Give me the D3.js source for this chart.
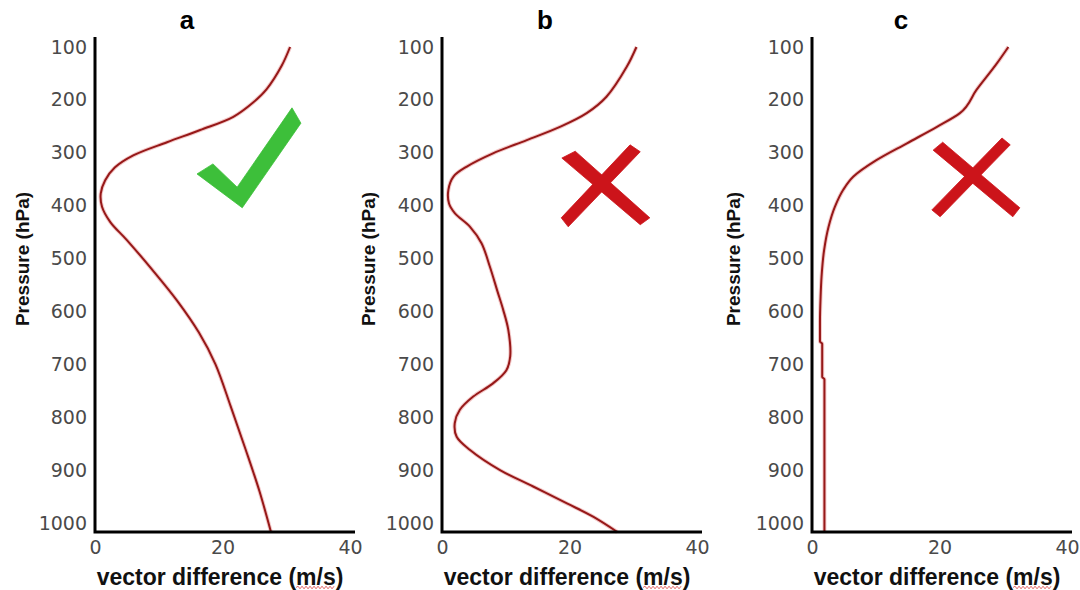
<!DOCTYPE html>
<html>
<head>
<meta charset="utf-8">
<script src="https://cdn.jsdelivr.net/npm/d3@7"></script>
<style>
  html, body { margin: 0; padding: 0; background: #ffffff; }
  svg { display: block; }
</style>
</head>
<body>
<svg id="chart" width="1080" height="590"></svg>
<script>
// ---- data -------------------------------------------------------------
const pressureTicks = [100, 200, 300, 400, 500, 600, 700, 800, 900, 1000];
const speedTicks = [0, 20, 40];
const panelLabels = ["a", "b", "c"];
const xTitle = "vector difference (m/s)";
const yTitle = "Pressure (hPa)";

// profile a: pressure (hPa) and vector difference (m/s)
const levelsA = [100, 135, 180, 205, 232, 257, 280, 305, 328, 352, 377, 402, 431, 465, 520, 580, 640, 700, 780, 860, 940, 1017];
const speedA  = [30.6, 29.3, 26.9, 24.8, 21.7, 16.5, 11.3, 6.0, 3.1, 1.6, 0.9, 1.1, 2.4, 5.0, 8.9, 12.9, 16.3, 18.9, 21.3, 23.6, 25.8, 27.6];

// profile b
const levelsB = [100, 137, 194, 225, 251, 276, 301, 326, 345, 370, 396, 414, 440, 471, 515, 562, 597, 635, 685, 711, 736, 761, 786, 811, 837, 862, 900, 931, 963, 988, 1017];
const speedB  = [30.5, 29.0, 25.8, 22.7, 18.5, 13.3, 8.0, 3.9, 1.8, 1.0, 1.1, 2.0, 4.4, 6.2, 7.5, 8.7, 9.6, 10.4, 10.7, 10.1, 8.0, 4.9, 2.8, 2.0, 2.3, 4.4, 9.1, 14.3, 19.6, 23.7, 27.5];

// profile c
const levelsC = [100, 131, 181, 225, 251, 282, 314, 345, 370, 402, 440, 484, 534, 572, 620, 657, 661, 724, 728, 1015];
const speedC  = [30.8, 29.0, 25.8, 23.2, 19.6, 14.9, 10.1, 6.5, 4.9, 3.6, 2.6, 1.9, 1.5, 1.35, 1.25, 1.25, 1.6, 1.6, 1.95, 1.95];

// verdict symbols, outlines given in (m/s, hPa) units of their panel
const checkOutline = [[16.0, 340], [18.5, 321], [22.3, 365], [30.9, 215], [32.3, 244], [23.1, 404]];
const crossOutlineB = [
  [[18.8, 310], [20.9, 297], [32.6, 423], [31.1, 436]],
  [[29.5, 285], [31.1, 298], [19.8, 440], [18.7, 423]]
];
const crossOutlineC = [
  [[19.0, 295], [20.5, 280], [32.6, 404], [31.5, 421]],
  [[29.8, 272], [31.1, 285], [20.1, 421], [18.8, 408]]
];

const profiles = [
  { label: panelLabels[0], levels: levelsA, speed: speedA, curve: d3.curveCatmullRom.alpha(0.5), marks: [checkOutline], markColor: "#3dbf3a" },
  { label: panelLabels[1], levels: levelsB, speed: speedB, curve: d3.curveCatmullRom.alpha(0.5), marks: crossOutlineB, markColor: "#cc141a" },
  { label: panelLabels[2], levels: levelsC, speed: speedC, curve: d3.curveMonotoneY, marks: crossOutlineC, markColor: "#cc141a" }
];

// ---- layout -------------------------------------------------------------
const layout = [
  { left: 95,  titleX: 187, yLabelX: 22 },
  { left: 442, titleX: 545, yLabelX: 368 },
  { left: 812, titleX: 901, yLabelX: 733 }
];
const axisTop = 37, axisBottom = 532;
const plotTop = 47, plotBottom = 523;
const xSpan = 255, xAxisLength = 260;
const tickFont = "'DejaVu Sans', Verdana, sans-serif";
const titleFont = "'Liberation Sans', Arial, sans-serif";

const svg = d3.select("#chart");
svg.append("rect").attr("width", 1080).attr("height", 590).attr("fill", "#ffffff");

const y = d3.scaleLinear().domain([100, 1000]).range([plotTop, plotBottom]);

profiles.forEach((prof, i) => {
  const L = layout[i];
  const x = d3.scaleLinear().domain([0, 40]).range([L.left, L.left + xSpan]);
  const g = svg.append("g").attr("class", "panel");

  // verdict symbol
  prof.marks.forEach(outline => {
    g.append("path")
      .attr("d", d3.line().x(d => x(d[0])).y(d => y(d[1]))(outline) + "Z")
      .attr("fill", prof.markColor)
      .attr("stroke", prof.markColor)
      .attr("stroke-width", 0.8)
      .attr("stroke-linejoin", "round");
  });

  // profile line
  const pts = prof.levels.map((p, k) => [prof.speed[k], p]);
  const line = d3.line()
    .x(d => x(d[0]))
    .y(d => y(d[1]))
    .curve(prof.curve);
  g.append("path")
    .attr("d", line(pts))
    .attr("fill", "none")
    .attr("stroke", "#f3c9c9")
    .attr("stroke-width", 4)
    .attr("stroke-linejoin", "round");
  g.append("path")
    .attr("d", line(pts))
    .attr("fill", "none")
    .attr("stroke", "#961818")
    .attr("stroke-width", 2)
    .attr("stroke-linejoin", "round");

  // y axis ticks
  const yAxis = d3.axisLeft(y).tickValues(pressureTicks).tickSize(0).tickPadding(8).tickFormat(d3.format("d"));
  const yg = g.append("g").attr("transform", `translate(${L.left},0)`).call(yAxis);
  yg.select(".domain").remove();
  yg.selectAll("text")
    .attr("font-family", tickFont)
    .attr("font-size", 19)
    .attr("fill", "#4a4a4a");

  // x axis ticks
  const xAxis = d3.axisBottom(x).tickValues(speedTicks).tickSize(0).tickPadding(9).tickFormat(d3.format("d"));
  const xg = g.append("g").attr("transform", `translate(0,${axisBottom})`).call(xAxis);
  xg.select(".domain").remove();
  xg.selectAll("text")
    .attr("font-family", tickFont)
    .attr("font-size", 19)
    .attr("fill", "#4a4a4a");

  // axis lines
  g.append("path")
    .attr("d", `M${L.left},${axisTop}V${axisBottom}H${L.left + xAxisLength}`)
    .attr("fill", "none")
    .attr("stroke", "#000000")
    .attr("stroke-width", 3)
    .attr("stroke-linejoin", "miter");

  // panel title
  g.append("text")
    .attr("x", L.titleX)
    .attr("y", 29)
    .attr("text-anchor", "middle")
    .attr("font-family", titleFont)
    .attr("font-weight", "bold")
    .attr("font-size", 26)
    .attr("fill", "#000000")
    .text(prof.label);

  // y axis title
  g.append("text")
    .attr("transform", `translate(${L.yLabelX},259) rotate(-90)`)
    .attr("text-anchor", "middle")
    .attr("dy", "0.35em")
    .attr("font-family", titleFont)
    .attr("font-weight", "bold")
    .attr("font-size", 19)
    .attr("fill", "#111111")
    .text(yTitle);

  // x axis title
  const xt = g.append("text")
    .attr("x", L.left + 125)
    .attr("y", 585)
    .attr("text-anchor", "middle")
    .attr("font-family", titleFont)
    .attr("font-weight", "bold")
    .attr("font-size", 23)
    .attr("fill", "#111111")
    .text(xTitle);

  // wavy proofing underline beneath "m/s"
  const node = xt.node();
  const start = xTitle.indexOf("m/s");
  const p0 = node.getStartPositionOfChar(start);
  const p1 = node.getEndPositionOfChar(start + 2);
  const wy = p0.y + 2.5;
  let d = `M${p0.x},${wy}`;
  let up = true;
  for (let wx = p0.x + 2; wx <= p1.x; wx += 2) {
    d += `L${wx},${wy + (up ? -1.3 : 1.3)}`;
    up = !up;
  }
  g.append("path")
    .attr("d", d)
    .attr("fill", "none")
    .attr("stroke", "#e05a5a")
    .attr("stroke-width", 0.9);
});
</script>
</body>
</html>
